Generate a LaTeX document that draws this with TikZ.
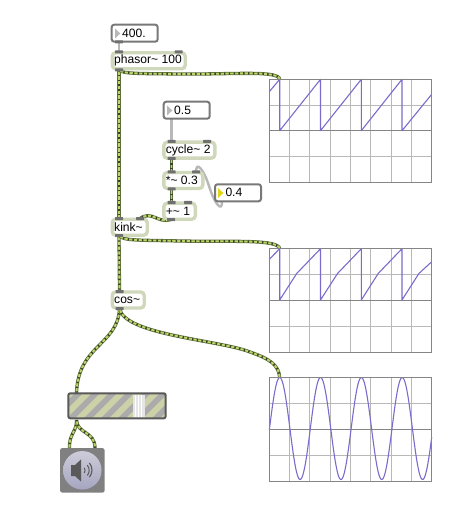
\documentclass[tikz,border=0pt]{standalone}
\usepackage{fontspec}
\setmainfont{Liberation Sans}
\pgfdeclarelayer{back}
\pgfsetlayers{back,main}
\definecolor{objedge}{HTML}{CFD8BB}
\definecolor{portc}{HTML}{707070}
\definecolor{cordA}{HTML}{5E6E3C}
\definecolor{cordB}{HTML}{BCD468}
\definecolor{cordC}{HTML}{364426}
\definecolor{sigc}{HTML}{7A6CCC}
\definecolor{gridc}{HTML}{B8B8B8}
\definecolor{framec}{HTML}{858585}
\definecolor{stripeA}{HTML}{CDD1A8}
\definecolor{stripeB}{HTML}{ABABAB}
\newcommand{\boxtext}[2]{\makebox[#1pt][l]{#2}}
\tikzset{
  x=1pt,y=-1pt,
  obj/.style={draw=objedge,line width=3.4pt,fill=white,rounded corners=3.5pt,anchor=north west,outer sep=0pt,
    inner xsep=2pt,inner ysep=0pt,minimum height=16pt,font=\fontsize{12.1}{14}\selectfont},
  num/.style={draw=framec!90!black,line width=2pt,fill=white,rounded corners=2.5pt,anchor=north west,outer sep=0pt,
    inner xsep=0pt,inner ysep=0pt,minimum height=17pt,font=\fontsize{12.1}{14}\selectfont},
  port/.style={fill=portc,inner sep=0pt,minimum width=8pt,minimum height=3pt,rounded corners=0.5pt},
  cord/.style={draw=cordA,line width=3.3pt,
    postaction={draw=cordB,line width=1.8pt},
    postaction={draw=cordC,line width=2.4pt,dash pattern=on 1.4pt off 3.4pt}},
  gcord/.style={draw=gridc,line width=2.4pt},
  scopebox/.style={draw=framec,line width=1.2pt,fill=white,anchor=north west,outer sep=0pt,inner sep=0pt,minimum width=162.4pt,minimum height=103.6pt},
  gridl/.style={draw=gridc,line width=0.9pt},
  midl/.style={draw=framec,line width=1.2pt},
  sig/.style={draw=sigc,line width=1.1pt,line join=round}
}
\begin{document}
\begin{tikzpicture}
\useasboundingbox (0,0) rectangle (457,521);
\begin{pgfonlayer}{back}
\fill[white] (0,0) rectangle (457,521);
\end{pgfonlayer}

% scopes
\node[scopebox] (s1) at (269.3,79.3) {};
\node[scopebox] (s2) at (269.3,248.7) {};
\node[scopebox] (s3) at (269.3,377.7) {};
\coordinate (s1in) at (279.7,79.5);
\coordinate (s2in) at (279.7,249);
\coordinate (s3in) at (279.7,378);
\foreach \t in {79.3,248.7,377.7}{
  \foreach \v in {289.3,309.7,330,350.3,370.7,391,411.3}
    \draw[gridl] (\v,\t) -- (\v,\t+103.6);
  \draw[gridl] (269.3,\t+26) -- (431.7,\t+26);
  \draw[gridl] (269.3,\t+77.4) -- (431.7,\t+77.4);
  \draw[midl] (269.3,\t+51.4) -- (431.7,\t+51.4);
}
\draw[sig] (269.3,91.7) -- (279.7,79.3) -- (279.7,130.7) -- (320.5,79.3) -- (320.5,130.7) -- (361.3,79.3) -- (361.3,130.7) -- (402,79.3) -- (402,130.7) -- (431.7,94.3);
\draw[sig] (269.3,259.3) -- (279.7,248.7) -- (279.7,300) -- (296.7,273.5) -- (320.5,248.7) -- (320.5,300) -- (337.5,273.5) -- (361.3,248.7) -- (361.3,300) -- (378.2,273.5) -- (402,248.7) -- (402,300) -- (418.9,273.5) -- (431.7,261.7);
\draw[sig] plot[domain=269.3:431.7,samples=240,smooth] (\x,{428.5-51*cos(2*pi*(\x-279.7)/40.83 r)});
\draw[framec,line width=1.2pt] (269.3,79.3) rectangle (431.7,182.9);
\draw[framec,line width=1.2pt] (269.3,248.7) rectangle (431.7,352.3);
\draw[framec,line width=1.2pt] (269.3,377.7) rectangle (431.7,481.3);

% number boxes
\node[num] (n400) at (111.7,24.7) {\boxtext{46}{\hspace*{10.5pt}400.}};
\node[num] (n05) at (163.7,101.7) {\boxtext{46}{\hspace*{10.5pt}0.5}};
\node[num] (n04) at (215,184.3) {\boxtext{46}{\hspace*{10.5pt}0.4}};
\fill[gridc] (115,28.5) -- (120.3,33.5) -- (115,38.5) -- cycle;
\fill[gridc] (167,105.5) -- (172.3,110.5) -- (167,115.5) -- cycle;
\fill[yellow!70!olive!90!white] (218,188) -- (223.3,193) -- (218,198) -- cycle;

% objects
\node[obj] (phasor) at (112.2,52.8) {\boxtext{69}{phasor\textasciitilde\ 100}};
\node[obj] (cycle) at (163.8,142.2) {\boxtext{47}{cycle\textasciitilde\ 2}};
\node[obj] (mul) at (163.8,172.5) {\boxtext{35}{*\textasciitilde\ 0.3}};
\node[obj] (add) at (163.8,203.2) {\boxtext{27.5}{+\textasciitilde\ 1}};
\node[obj] (kink) at (112.2,219.2) {\boxtext{31}{kink\textasciitilde}};
\node[obj] (cos) at (112.2,292) {\boxtext{28}{cos\textasciitilde}};

% gain slider
\begin{scope}
\clip[rounded corners=2pt] (68.3,393.3) rectangle (165.7,418.3);
\fill[stripeA] (60,385) rectangle (175,425);
\foreach \i in {30,47,...,170}
  \fill[stripeB] (\i,421) -- (\i+8,421) -- (\i+37,392) -- (\i+29,392) -- cycle;
\fill[black!10] (133,394.5) rectangle (144.5,417.5);
\foreach \v in {135.5,138.7,141.9}
  \draw[white,line width=1pt] (\v,395) -- (\v,417);
\end{scope}
\node[draw=black!65,line width=2pt,rounded corners=2pt,anchor=north west,outer sep=0pt,inner sep=0pt,
  minimum width=97.4pt,minimum height=25pt] (gain) at (68.3,393.3) {};

% dac
\node[fill=black!50,rounded corners=2.5pt,anchor=north west,outer sep=0pt,inner sep=0pt,minimum width=44.7pt,minimum height=44.7pt] (dac) at (60,448) {};
\node[circle,inner sep=0pt,minimum size=38.5pt,top color=blue!25!black!20!white,bottom color=blue!30!black!35!white] (dacknob) at (82.3,470.3) {};
\fill[black!65] (71,465) -- (75,465) -- (81,459.5) -- (81,481.5) -- (75,476) -- (71,476) -- cycle;
\draw[black!65,line width=0.9pt] (84.2,467.8) arc[start angle=40,end angle=-40,radius=4pt];
\draw[black!65,line width=1pt] (87.3,465.2) arc[start angle=40,end angle=-40,radius=8pt];
\draw[black!65,line width=1.1pt] (89.4,463) arc[start angle=40,end angle=-40,radius=11pt];

% ports
\node[port] (n400o) at (119,42) {};
\node[port] (phi1) at (119,52) {};
\node[port] (phi2) at (178.5,52) {};
\node[port] (pho) at (119,70) {};
\node[port,fill=none] (n05o) at (171.5,119.5) {};
\node[port] (cyi1) at (171.5,141.5) {};
\node[port] (cyi2) at (207,141.5) {};
\node[port] (cyo) at (171.5,158.5) {};
\node[port] (mui1) at (171.5,172) {};
\node[port] (mui2) at (196,172) {};
\node[port] (muo) at (171.5,189) {};
\node[port] (adi1) at (171.5,202.5) {};
\node[port] (adi2) at (188,202.5) {};
\node[port] (ado) at (171,219.5) {};
\node[port] (kii1) at (119,218.5) {};
\node[port] (kii2) at (140,218.5) {};
\node[port] (kio) at (119,235.5) {};
\node[port] (coi) at (119.5,291.5) {};
\node[port] (coo) at (119.5,308.5) {};
\node[port,fill=none] (n04o) at (222,202) {};
\coordinate (gainin) at (76.5,393);
\coordinate (gainout) at (76.5,420);
\coordinate (dacl) at (69.5,448);
\coordinate (dacr) at (95,448);

\begin{pgfonlayer}{back}
\draw[gcord] (n400o.center) -- (phi1.center);
\draw[gcord] (n05o.center) -- (cyi1.center);
\draw[gcord] (n04o.center) .. controls (222,212) and (215,205) .. (209,186) .. controls (204,170) and (196,160) .. (mui2.center);
\draw[cord] (pho.center) -- (kii1.center);
\draw[cord] (pho.center) .. controls (123,74) and (140,73.5) .. (180,74) .. controls (235,74.5) and (279,70) .. (s1in);
\draw[cord] (cyo.center) -- (mui1.center);
\draw[cord] (muo.center) -- (adi1.center);
\draw[cord] (ado.center) .. controls (158,224) and (152,210) .. (kii2.center);
\draw[cord] (kio.center) -- (coi.center);
\draw[cord] (kio.center) .. controls (123,241) and (140,240) .. (180,241) .. controls (235,242) and (279,239) .. (s2in);
\draw[cord] (coo.center) .. controls (118,345) and (78,345) .. (gainin);
\draw[cord] (coo.center) .. controls (124,335) and (220,340) .. (250,352) .. controls (270,359) and (279,365) .. (s3in);
\draw[cord] (gainout) .. controls (77,432) and (69,433) .. (dacl);
\draw[cord] (gainout) .. controls (77,434) and (95,431) .. (dacr);
\end{pgfonlayer}
\end{tikzpicture}
\end{document}
